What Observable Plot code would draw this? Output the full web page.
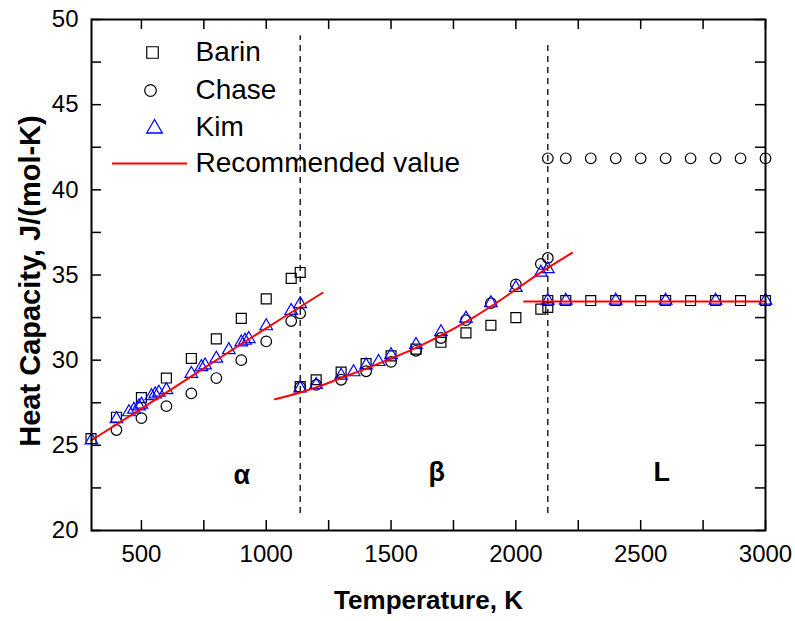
<!DOCTYPE html>
<html><head><meta charset="utf-8">
<script src="https://cdn.jsdelivr.net/npm/d3@7"></script>
<script src="https://cdn.jsdelivr.net/npm/@observablehq/plot@0.6"></script>
<style>body{margin:0;background:#fff;}</style>
</head><body><div id="chart"></div>
<script>
// ---- data (Temperature K, Cp J/(mol-K)) ----
const barinAlpha = [[298,25.4],[400,26.65],[500,27.8],[600,28.95],[700,30.1],[800,31.25],[900,32.45],[1000,33.6],[1100,34.8],[1136,35.15]];
const barinBeta = [[1136,28.45],[1200,28.85],[1300,29.3],[1400,29.8],[1500,30.25],[1600,30.65],[1700,31.05],[1800,31.6],[1900,32.05],[2000,32.5],[2100,33.0],[2128,33.1]];
const barinLiquid = [[2128,33.5],[2200,33.5],[2300,33.5],[2400,33.5],[2500,33.5],[2600,33.5],[2700,33.5],[2800,33.5],[2900,33.5],[3000,33.5]];
const chaseAlpha = [[400,25.9],[500,26.6],[600,27.3],[700,28.05],[800,28.95],[900,30.0],[1000,31.1],[1100,32.3],[1136,32.75]];
const chaseBeta = [[1136,28.4],[1200,28.55],[1300,28.85],[1400,29.35],[1500,29.9],[1600,30.55],[1700,31.3],[1800,32.35],[1900,33.35],[2000,34.45],[2100,35.65],[2128,36.0]];
const chaseLiquid = [[2128,41.85],[2200,41.85],[2300,41.85],[2400,41.85],[2500,41.85],[2600,41.85],[2700,41.85],[2800,41.85],[2900,41.85],[3000,41.85]];
const kimAlpha = [[300,25.3],[400,26.55],[450,26.95],[470,27.1],[490,27.3],[500,27.4],[540,27.9],[555,28.0],[570,28.1],[600,28.25],[700,29.2],[740,29.6],[755,29.7],[800,30.1],[850,30.6],[900,31.05],[915,31.15],[930,31.25],[1000,32.0],[1100,32.9],[1136,33.3]];
const kimBeta = [[1136,28.35],[1200,28.55],[1300,29.1],[1350,29.3],[1400,29.7],[1450,29.9],[1500,30.3],[1600,30.9],[1700,31.65],[1800,32.45],[1900,33.35],[2000,34.25],[2100,35.15],[2128,35.35]];
const kimLiquid = [[2128,33.5],[2200,33.5],[2400,33.5],[2600,33.5],[2800,33.5],[3000,33.5]];
const recAlpha = [[300,25.3],[500,27.15],[700,29.05],[900,30.95],[1100,32.8],[1225,33.95]];
const recBeta = [[1035,27.7],[1136,28.1],[1200,28.4],[1300,28.95],[1400,29.5],[1500,30.1],[1600,30.72],[1700,31.45],[1800,32.25],[1900,33.15],[2000,34.15],[2100,35.15],[2225,36.3]];
const recLiquid = [[2033,33.45],[3000,33.45]];
const phaseBoundaries = [{T:1136, top:49.05, bottom:21.0}, {T:2128, top:48.6, bottom:21.0}];
const phaseLabels = [{T:902, Cp:23.25, label:"α"}, {T:1683, Cp:23.4, label:"β"}, {T:2584, Cp:23.4, label:"L"}];
const xLabelTicks = [500,1000,1500,2000,2500,3000];
const xMinorTicks = [500,750,1000,1250,1500,1750,2000,2250,2500,2750,3000];
const yLabelTicks = [20,25,30,35,40,45,50];
const yMinorTicks = [20,22.5,25,27.5,30,32.5,35,37.5,40,42.5,45,47.5,50];
const xTitle = "Temperature, K";
const yTitle = "Heat Capacity, J/(mol-K)";
const legendItems = [
  {label:"Barin", kind:"square"},
  {label:"Chase", kind:"circle"},
  {label:"Kim", kind:"triangle"},
  {label:"Recommended value", kind:"line"}
];

// ---- layout ----
const W = 795, H = 621, mL = 91, mR = 30, mT = 19, mB = 91;
const plotW = W - mL - mR, plotH = H - mT - mB;
const blue = "#0000ff", red = "#ff0000";
const legendRowDy = [33, 71, 108, 144];

const sym = (data, symbol, r, stroke) => Plot.dot(data, {x: d => d[0], y: d => d[1], symbol, r, stroke, fill: "none", strokeWidth: 1.2});

const legendMarks = legendItems.flatMap((it, i) => {
  const dy = legendRowDy[i];
  const marks = [Plot.text([it.label], {text: d => d, frameAnchor: "top-left", dx: 104, dy, textAnchor: "start", lineAnchor: "middle", fontSize: 28, fill: "black"})];
  if (it.kind === "square") marks.push(Plot.dot([it], {frameAnchor: "top-left", dx: 61, dy, symbol: "square", r: 6.5, stroke: "black", fill: "none", strokeWidth: 1.2}));
  if (it.kind === "circle") marks.push(Plot.dot([it], {frameAnchor: "top-left", dx: 59, dy, symbol: "circle", r: 5.8, stroke: "black", fill: "none", strokeWidth: 1.2}));
  if (it.kind === "triangle") marks.push(Plot.dot([it], {frameAnchor: "top-left", dx: 63, dy: dy + 1, symbol: "triangle", r: 5.8, stroke: blue, fill: "none", strokeWidth: 1.3}));
  if (it.kind === "line") marks.push(Plot.ruleY([50], {y: d => d, dy, insetLeft: 21, insetRight: plotW - 96, stroke: red, strokeWidth: 2}));
  return marks;
});

const chart = Plot.plot({
  width: W, height: H,
  marginLeft: mL, marginRight: mR, marginTop: mT, marginBottom: mB,
  style: {fontFamily: "'Liberation Sans', Arial, sans-serif", background: "white", color: "black"},
  x: {domain: [300, 3000]},
  y: {domain: [20, 50]},
  marks: [
    // phase boundaries
    Plot.ruleX(phaseBoundaries, {x: "T", y1: "bottom", y2: "top", stroke: "black", strokeWidth: 1.3, strokeDasharray: "6,5"}),
    // data
    sym(barinAlpha, "square", 5.6, "black"),
    sym(barinBeta, "square", 5.6, "black"),
    sym(barinLiquid, "square", 5.6, "black"),
    sym(chaseAlpha, "circle", 5.3, "black"),
    sym(chaseBeta, "circle", 5.3, "black"),
    sym(chaseLiquid, "circle", 5.3, "black"),
    sym(kimAlpha, "triangle", 4.7, blue),
    sym(kimBeta, "triangle", 4.7, blue),
    sym(kimLiquid, "triangle", 4.7, blue),
    Plot.line(recAlpha, {x: d => d[0], y: d => d[1], stroke: red, strokeWidth: 2, curve: "monotone-x"}),
    Plot.line(recBeta, {x: d => d[0], y: d => d[1], stroke: red, strokeWidth: 2, curve: "monotone-x"}),
    Plot.line(recLiquid, {x: d => d[0], y: d => d[1], stroke: red, strokeWidth: 2}),
    // phase labels
    Plot.text(phaseLabels, {x: "T", y: "Cp", text: "label", fontSize: 27, fontWeight: "bold", fill: "black"}),
    // inward ticks on all sides
    Plot.tickX(xMinorTicks, {x: d => d, insetTop: plotH - 10, stroke: "black", strokeWidth: 1.5}),
    Plot.tickX(xMinorTicks, {x: d => d, insetBottom: plotH - 10, stroke: "black", strokeWidth: 1.5}),
    Plot.tickY(yMinorTicks, {y: d => d, insetRight: plotW - 10, stroke: "black", strokeWidth: 1.5}),
    Plot.tickY(yMinorTicks, {y: d => d, insetLeft: plotW - 10, stroke: "black", strokeWidth: 1.5}),
    Plot.frame({stroke: "black", strokeWidth: 2}),
    // tick labels
    Plot.axisX(xLabelTicks, {tickSize: 0, tickPadding: 14, fontSize: 24, tickFormat: "d", label: null}),
    Plot.axisY(yLabelTicks, {tickSize: 0, tickPadding: 13, fontSize: 24, tickFormat: "d", label: null}),
    // axis titles
    Plot.text([xTitle], {text: d => d, frameAnchor: "bottom", dy: 78, textAnchor: "middle", fontSize: 26, fontWeight: "bold", fill: "black"}),
    Plot.text([yTitle], {text: d => d, frameAnchor: "left", dx: -61, dy: 6, rotate: -90, textAnchor: "middle", lineAnchor: "middle", fontSize: 29, fontWeight: "bold", fill: "black"}),
    ...legendMarks
  ]
});
document.getElementById("chart").append(chart);
</script>
</body></html>
